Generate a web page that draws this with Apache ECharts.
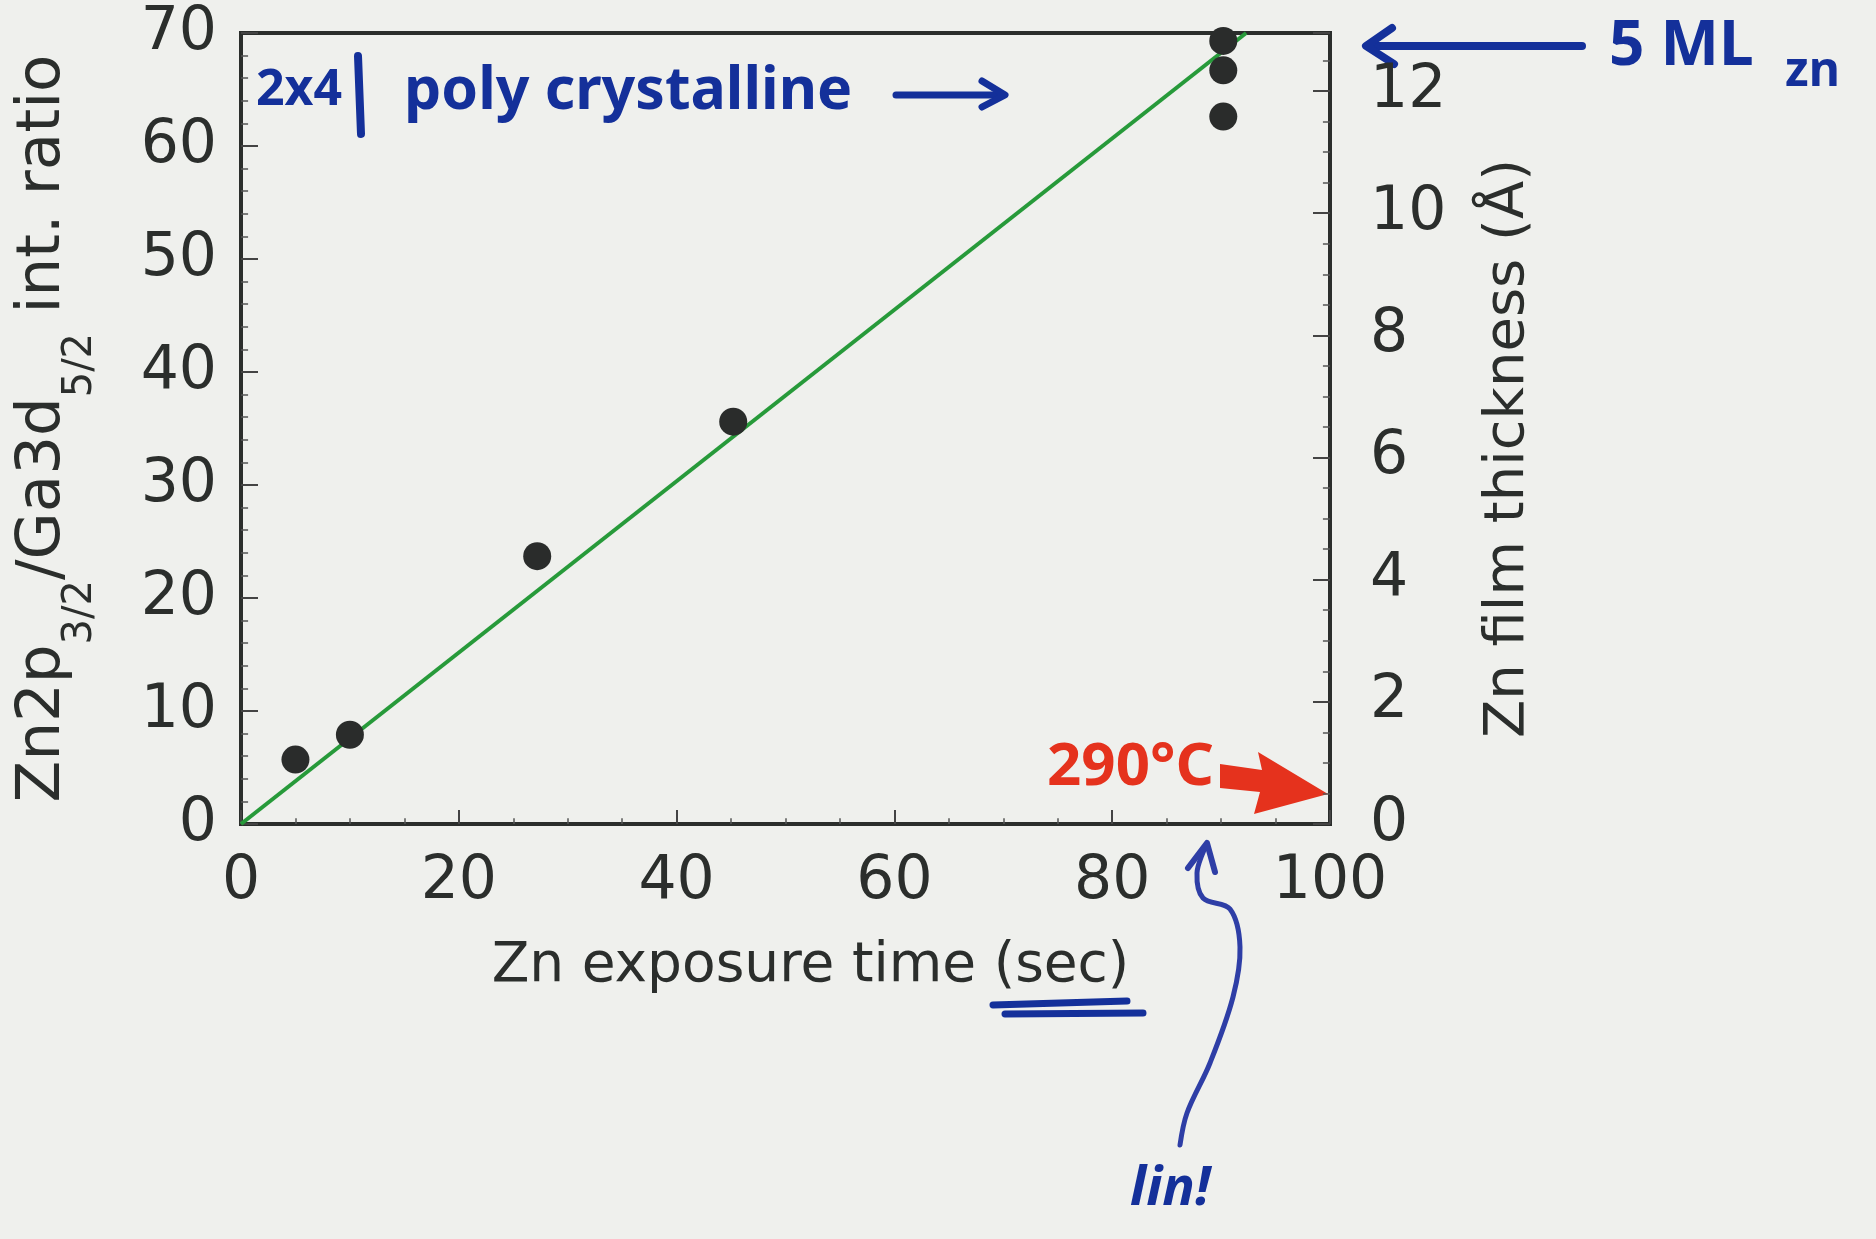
<!DOCTYPE html>
<html>
<head>
<meta charset="utf-8">
<script src="https://cdn.jsdelivr.net/npm/echarts@6/dist/echarts.min.js"></script>
<style>
  html, body { margin: 0; padding: 0; background: #eff0ed; }
  #chart { width: 1876px; height: 1239px; }
</style>
</head>
<body>
<div id="chart"></div>
<script>
// measured points (exposure time in sec, Zn2p/Ga3d intensity ratio)
var exposureTime = [5.0, 10.0, 27.2, 45.2, 90.2, 90.2, 90.2];
var intRatio = [5.7, 7.9, 23.7, 35.6, 69.3, 66.7, 62.6];
// hand-drawn linear fit
var fitTime = [0, 92.3];
var fitRatio = [0, 70];
// axis ranges [min, max, interval]
var timeRange = [0, 100, 20];
var ratioRange = [0, 70, 10];
var thicknessRange = [0, 12.95, 2];

var ink = '#2b2e2c';
var blue = '#14309a';
var red = '#e5321d';
var font = 'DejaVu Sans';

var myChart = echarts.init(document.getElementById('chart'));

var points = exposureTime.map(function (t, i) { return [t, intRatio[i]]; });
var fitLine = fitTime.map(function (t, i) { return [t, fitRatio[i]]; });

function axisBase(split, tickLen) {
  return {
    axisLine: { show: true, onZero: false, lineStyle: { color: ink, width: 4 } },
    axisTick: { show: true, inside: true, length: tickLen, lineStyle: { color: '#444', width: 2 } },
    minorTick: { show: true, splitNumber: split, length: tickLen / 2.4, lineStyle: { color: '#555', width: 1.5 } },
    splitLine: { show: false },
    axisLabel: { fontSize: 60, color: ink, fontFamily: font }
  };
}

var xAxis = axisBase(4, 14);
xAxis.type = 'value';
xAxis.min = timeRange[0];
xAxis.max = timeRange[1];
xAxis.interval = timeRange[2];
xAxis.axisLabel.margin = 28;
xAxis.name = 'Zn exposure time (sec)';
xAxis.nameLocation = 'middle';
xAxis.nameGap = 115;
xAxis.nameTextStyle = { fontSize: 55, color: ink, fontFamily: font, padding: [0, 0, 0, 50] };

var yLeft = axisBase(5, 17);
yLeft.type = 'value';
yLeft.position = 'left';
yLeft.min = ratioRange[0];
yLeft.max = ratioRange[1];
yLeft.interval = ratioRange[2];
yLeft.axisLabel.margin = 24;
yLeft.name = 'Zn2p{sub|3/2}/Ga3d{sub|5/2} int. ratio';
yLeft.nameLocation = 'middle';
yLeft.nameRotate = 90;
yLeft.nameGap = 140;
yLeft.nameTextStyle = {
  fontSize: 61, color: ink, fontFamily: font, lineHeight: 116,
  rich: {
    sub: { fontSize: 40, color: ink, fontFamily: font, verticalAlign: 'bottom', lineHeight: 44 }
  }
};

var yRight = axisBase(4, 17);
yRight.type = 'value';
yRight.position = 'right';
yRight.min = thicknessRange[0];
yRight.max = thicknessRange[1];
yRight.interval = thicknessRange[2];
yRight.axisLabel.margin = 40;
yRight.axisLabel.showMaxLabel = false;
yRight.name = 'Zn film thickness (\u00c5)';
yRight.nameLocation = 'middle';
yRight.nameRotate = 90;
yRight.nameGap = 150;
yRight.nameTextStyle = { fontSize: 56, color: ink, fontFamily: font, padding: [0, 40, 0, 0] };

var option = {
  backgroundColor: '#eff0ed',
  animation: false,
  grid: {
    left: 241, top: 33, width: 1089, height: 791,
    outerBoundsMode: 'none', containLabel: false,
    show: true, borderColor: ink, borderWidth: 4
  },
  xAxis: xAxis,
  yAxis: [yLeft, yRight],
  series: [
    {
      name: 'fit',
      type: 'line',
      data: fitLine,
      showSymbol: false,
      lineStyle: { color: '#279a3a', width: 4 },
      z: 2,
      silent: true
    },
    {
      name: 'Zn2p/Ga3d',
      type: 'scatter',
      data: points,
      symbolSize: 28,
      clip: false,
      itemStyle: { color: '#2a2c2b', opacity: 1 },
      z: 3
    }
  ],
  graphic: [
    // "2x4 | poly crystalline ->"
    { type: 'text', x: 256, y: 91, style: { text: '2x4', fill: blue, font: 'bold 50px Noto Sans', verticalAlign: 'middle' } },
    { type: 'line', shape: { x1: 358, y1: 56, x2: 361, y2: 134 }, style: { stroke: blue, lineWidth: 8, lineCap: 'round' } },
    { type: 'text', x: 404, y: 92, style: { text: 'poly crystalline', fill: blue, font: 'bold 59px Noto Sans', verticalAlign: 'middle' } },
    { type: 'line', shape: { x1: 896, y1: 95, x2: 1003, y2: 95 }, style: { stroke: blue, lineWidth: 7, lineCap: 'round' } },
    { type: 'polyline', shape: { points: [[982, 81], [1005, 95], [982, 107]] }, style: { stroke: blue, lineWidth: 7, lineCap: 'round', lineJoin: 'round', fill: null } },
    // "<- 5 ML zn"
    { type: 'line', shape: { x1: 1368, y1: 46, x2: 1582, y2: 46 }, style: { stroke: blue, lineWidth: 8, lineCap: 'round' } },
    { type: 'polyline', shape: { points: [[1392, 28], [1366, 46], [1394, 64]] }, style: { stroke: blue, lineWidth: 8, lineCap: 'round', lineJoin: 'round', fill: null } },
    { type: 'text', x: 1609, y: 47, style: { text: '5 ML', fill: blue, font: 'bold 62px Noto Sans', verticalAlign: 'middle' } },
    { type: 'text', x: 1785, y: 72, style: { text: 'zn', fill: blue, font: 'bold 48px Noto Sans', verticalAlign: 'middle' } },
    // "290°C ->"
    { type: 'text', x: 1047, y: 768, style: { text: '290\u00b0C', fill: red, font: 'bold 60px Noto Sans', verticalAlign: 'middle' } },
    { type: 'polygon', shape: { points: [[1220, 764], [1262, 770], [1258, 752], [1328, 794], [1254, 814], [1260, 792], [1220, 788]] }, style: { fill: red } },
    // double underline under (sec)
    { type: 'line', shape: { x1: 993, y1: 1005, x2: 1127, y2: 1001 }, style: { stroke: blue, lineWidth: 7, lineCap: 'round' } },
    { type: 'line', shape: { x1: 1005, y1: 1014, x2: 1143, y2: 1013 }, style: { stroke: blue, lineWidth: 7, lineCap: 'round' } },
    // "lin!" with curved arrow
    { type: 'polyline', shape: { points: [[1180, 1145], [1187, 1113], [1210, 1063], [1233, 997], [1240, 947], [1230, 909], [1203, 898], [1197, 873], [1205, 848]], smooth: 0.35 }, style: { stroke: '#2e3ea6', lineWidth: 5, lineCap: 'round', fill: null } },
    { type: 'polyline', shape: { points: [[1188, 868], [1207, 843], [1215, 872]] }, style: { stroke: '#2e3ea6', lineWidth: 6, lineCap: 'round', lineJoin: 'round', fill: null } },
    { type: 'text', x: 1130, y: 1190, style: { text: 'lin!', fill: blue, font: 'italic bold 54px Noto Sans', verticalAlign: 'middle' } }
  ]
};

myChart.setOption(option);
</script>
</body>
</html>
